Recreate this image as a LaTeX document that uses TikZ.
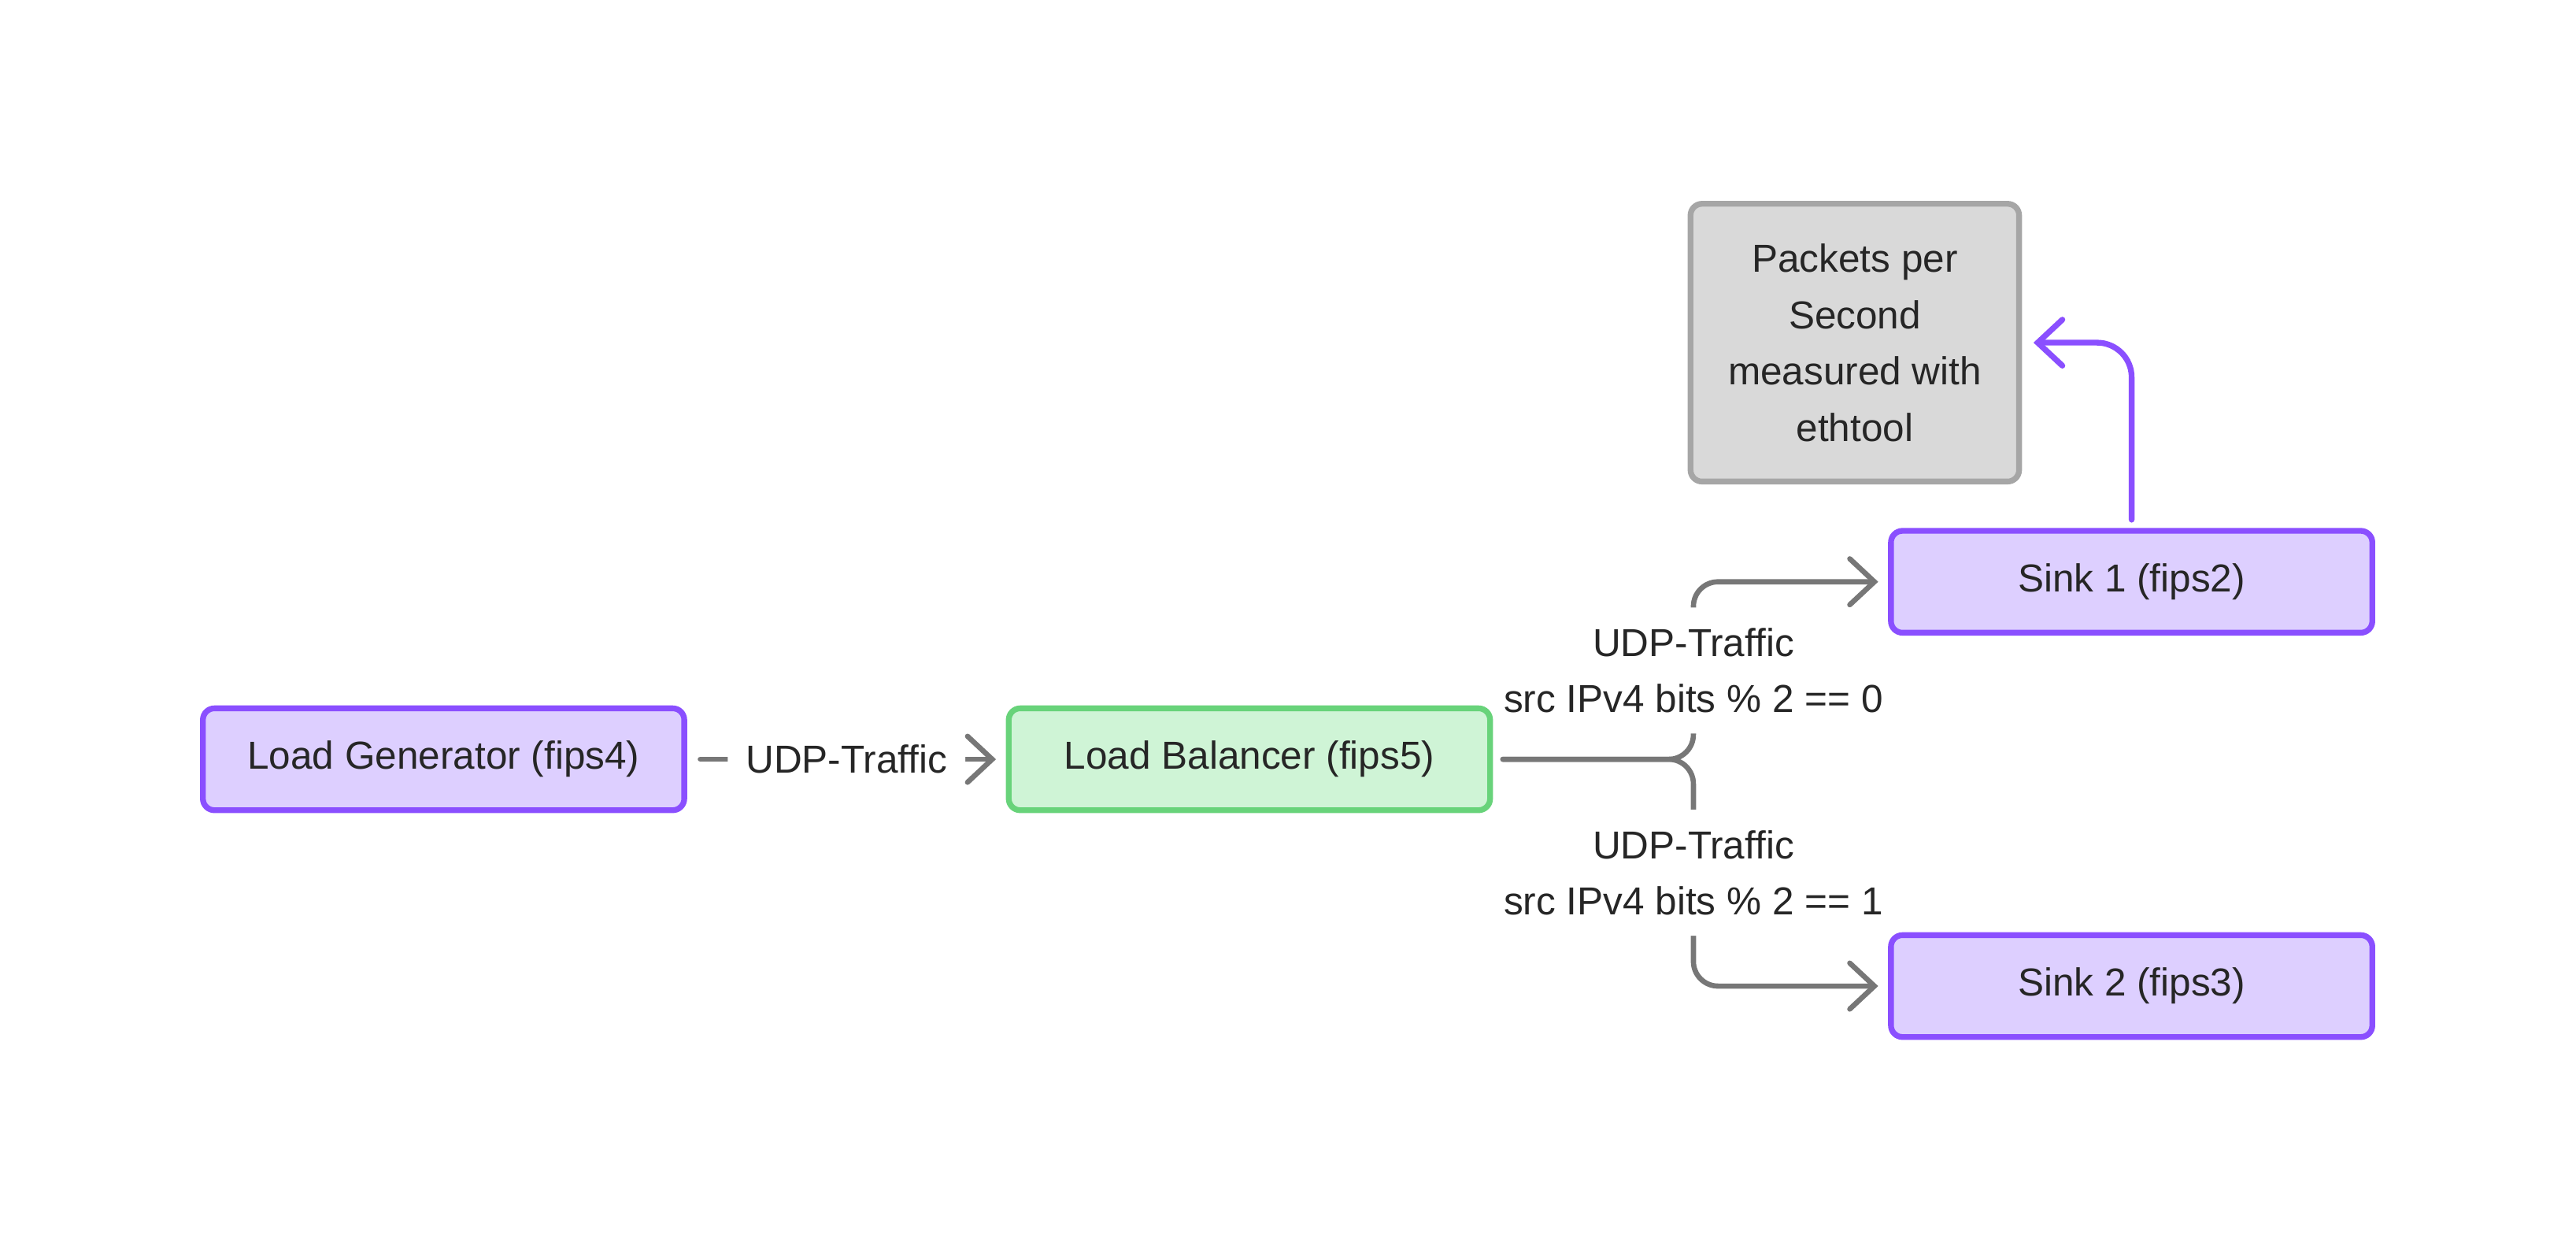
\documentclass[tikz,border=0pt]{standalone}
\usepackage{fontspec}
\setmainfont{Liberation Sans}
\usetikzlibrary{arrows.meta, positioning, backgrounds}
\definecolor{cpurple}{HTML}{8A4FFF}
\definecolor{cpurplefill}{HTML}{DDCFFF}
\definecolor{cgreen}{HTML}{68D37A}
\definecolor{cgreenfill}{HTML}{CFF4D6}
\definecolor{cgrey}{HTML}{A6A6A6}
\definecolor{cgreyfill}{HTML}{D9D9D9}
\definecolor{cline}{HTML}{777777}
\definecolor{ctext}{HTML}{262626}
\tikzset{
  every picture/.style={font=\fontsize{13.5}{19.5}\selectfont, text=ctext, line width=2pt},
  box/.style 2 args={draw=#1, fill=#2, rounded corners=4pt, align=center, inner sep=0pt,
                     minimum width=5.86cm, minimum height=1.24cm},
  arrow/.style={-{Straight Barb[length=0.3cm, width=0.56cm, line cap=round]}, draw=cline,
                line width=1.8pt, line cap=round, rounded corners=0.3cm},
  edgelabel/.style={fill=white, align=center, inner xsep=0.22cm, inner ysep=0.25cm},
}

\begin{document}
\begin{tikzpicture}
  \useasboundingbox (0,0) rectangle (31.36,-15.105);
  % ---------- machines ----------
  \node[box={cpurple}{cpurplefill}] (gen) at (5.40,-9.24) {Load Generator (fips4)};
  \node[box={cgreen}{cgreenfill}] (lb) at (15.21,-9.24) {Load Balancer (fips5)};
  \node[box={cpurple}{cpurplefill}] (sink1) at (25.95,-7.08) {Sink 1 (fips2)};
  \node[box={cpurple}{cpurplefill}] (sink2) at (25.95,-12.0) {Sink 2 (fips3)};
  \node[box={cgrey}{cgreyfill}, minimum width=4.0cm, minimum height=3.38cm] (pps) at (22.58,-4.17)
    {Packets per\\Second\\measured with\\ethtool};
  \begin{scope}[on background layer]
    % ---------- traffic ----------
    \draw[arrow, shorten <=0.16cm, shorten >=0.12cm] (gen) -- node[edgelabel] {UDP-Traffic} (lb);
    \draw[arrow, shorten <=0.12cm, shorten >=0.12cm] (lb.east) -- ++(2.44,0)
      |- node[edgelabel, pos=0.25] {UDP-Traffic\\src IPv4 bits \% 2 == 0} (sink1.west);
    \draw[arrow, shorten <=0.12cm, shorten >=0.12cm] (lb.east) -- ++(2.44,0)
      |- node[edgelabel, pos=0.25] {UDP-Traffic\\src IPv4 bits \% 2 == 1} (sink2.west);
    % ---------- measurement ----------
    \draw[arrow, draw=cpurple, line width=2pt, rounded corners=0.42cm, shorten <=0.1cm, shorten >=0.14cm]
      (sink1.north) |- (pps.east);
  \end{scope}
\end{tikzpicture}
\end{document}
